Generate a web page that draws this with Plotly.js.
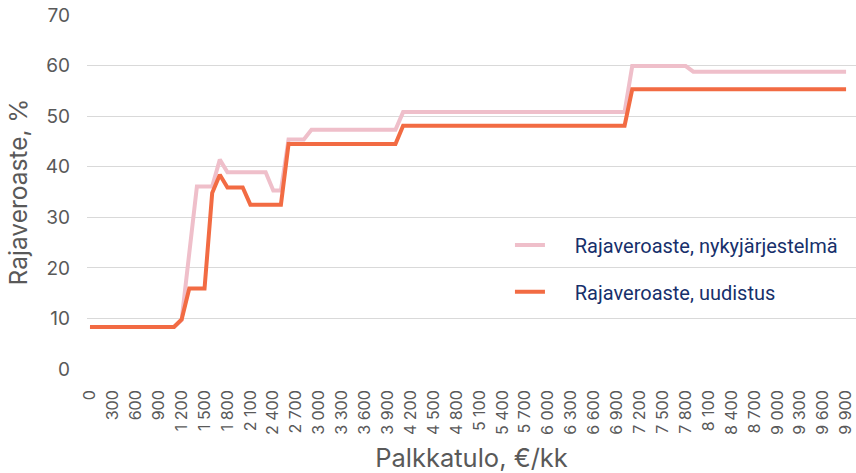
<!DOCTYPE html>
<html>
<head>
<meta charset="utf-8">
<script src="https://cdn.plot.ly/plotly-3.0.1.min.js"></script>
<style>html,body{margin:0;padding:0;background:#fff;}#chart{width:856px;height:473px;}</style>
</head>
<body>
<div id="chart"></div>
<script>
// Palkkatulo, €/kk
const income = [
  0,100,200,300,400,500,600,700,800,900,
  1000,1100,1200,1300,1400,1500,1600,1700,1800,1900,
  2000,2100,2200,2300,2400,2500,2600,2700,2800,2900,
  3000,3100,3200,3300,3400,3500,3600,3700,3800,3900,
  4000,4100,4200,4300,4400,4500,4600,4700,4800,4900,
  5000,5100,5200,5300,5400,5500,5600,5700,5800,5900,
  6000,6100,6200,6300,6400,6500,6600,6700,6800,6900,
  7000,7100,7200,7300,7400,7500,7600,7700,7800,7900,
  8000,8100,8200,8300,8400,8500,8600,8700,8800,8900,
  9000,9100,9200,9300,9400,9500,9600,9700,9800,9900
];
// Rajaveroaste, nykyjärjestelmä (%)
const current = [
  8.3,8.3,8.3,8.3,8.3,8.3,8.3,8.3,8.3,8.3,
  8.3,8.3,9.7,23.0,36.1,36.1,36.1,41.4,38.9,38.9,
  38.9,38.9,38.9,38.9,35.3,35.3,45.4,45.4,45.4,47.3,
  47.3,47.3,47.3,47.3,47.3,47.3,47.3,47.3,47.3,47.3,
  47.3,50.8,50.8,50.8,50.8,50.8,50.8,50.8,50.8,50.8,
  50.8,50.8,50.8,50.8,50.8,50.8,50.8,50.8,50.8,50.8,
  50.8,50.8,50.8,50.8,50.8,50.8,50.8,50.8,50.8,50.8,
  50.8,59.9,59.9,59.9,59.9,59.9,59.9,59.9,59.9,58.8,
  58.8,58.8,58.8,58.8,58.8,58.8,58.8,58.8,58.8,58.8,
  58.8,58.8,58.8,58.8,58.8,58.8,58.8,58.8,58.8,58.8
];
// Rajaveroaste, uudistus (%)
const reform = [
  8.3,8.3,8.3,8.3,8.3,8.3,8.3,8.3,8.3,8.3,
  8.3,8.3,9.8,15.9,15.9,15.9,34.8,38.4,35.9,35.9,
  35.9,32.5,32.5,32.5,32.5,32.5,44.5,44.5,44.5,44.5,
  44.5,44.5,44.5,44.5,44.5,44.5,44.5,44.5,44.5,44.5,
  44.5,48.1,48.1,48.1,48.1,48.1,48.1,48.1,48.1,48.1,
  48.1,48.1,48.1,48.1,48.1,48.1,48.1,48.1,48.1,48.1,
  48.1,48.1,48.1,48.1,48.1,48.1,48.1,48.1,48.1,48.1,
  48.1,55.3,55.3,55.3,55.3,55.3,55.3,55.3,55.3,55.3,
  55.3,55.3,55.3,55.3,55.3,55.3,55.3,55.3,55.3,55.3,
  55.3,55.3,55.3,55.3,55.3,55.3,55.3,55.3,55.3,55.3
];
const tickValues = [0,300,600,900,1200,1500,1800,2100,2400,2700,3000,3300,3600,3900,4200,4500,4800,5100,5400,5700,6000,6300,6600,6900,7200,7500,7800,8100,8400,8700,9000,9300,9600,9900];
const tickLabels = ["0","300","600","900","1 200","1 500","1 800","2 100","2 400","2 700","3 000","3 300","3 600","3 900","4 200","4 500","4 800","5 100","5 400","5 700","6 000","6 300","6 600","6 900","7 200","7 500","7 800","8 100","8 400","8 700","9 000","9 300","9 600","9 900"];
const names = ["Rajaveroaste, nykyjärjestelmä", "Rajaveroaste, uudistus"];

// legend text indent (visual gap between sample line and label)
const pad = '\u00a0\u00a0\u00a0\u00a0\u00a0';
const traces = [
  {x: income, y: current, name: pad + names[0], type: 'scatter', mode: 'lines',
   line: {color: '#efbfca', width: 4, shape: 'linear'}, legend: 'legend'},
  {x: income, y: reform, name: pad + names[1], type: 'scatter', mode: 'lines',
   line: {color: '#f26b43', width: 4, shape: 'linear'}, legend: 'legend2'}
];

const legendFont = {family: 'Roboto, sans-serif', size: 20, color: '#17306b'};
const layout = {
  width: 856, height: 473,
  margin: {l: 87, r: 0, t: 15, b: 104},
  paper_bgcolor: '#ffffff', plot_bgcolor: '#ffffff',
  font: {family: 'Inter, sans-serif', color: '#595959'},
  showlegend: true,
  xaxis: {
    type: 'linear', range: [-39, 10030],
    tickmode: 'array', tickvals: tickValues, ticktext: tickLabels,
    tickangle: -90, tickfont: {size: 16, color: '#595959'},
    ticklabeloverflow: 'allow',
    ticks: '', showgrid: false, zeroline: false, showline: false,
    ticklabelstandoff: 17,
    title: {text: 'Palkkatulo, €/kk', font: {size: 25.5, color: '#595959'}, standoff: 18}
  },
  yaxis: {
    range: [0, 70], dtick: 10, tick0: 0,
    tickfont: {size: 19, color: '#595959'},
    ticks: '', showgrid: true, gridcolor: '#d9d9d9', gridwidth: 1,
    zeroline: false, showline: false, ticklabelstandoff: 16,
    title: {text: 'Rajaveroaste, %', font: {size: 24.5, color: '#595959'}, standoff: 11}
  },
  legend: {x: 0.55, y: 0.350, xanchor: 'left', yanchor: 'middle',
    bgcolor: 'rgba(0,0,0,0)', borderwidth: 0, font: legendFont, itemwidth: 30},
  legend2: {x: 0.55, y: 0.218, xanchor: 'left', yanchor: 'middle',
    bgcolor: 'rgba(0,0,0,0)', borderwidth: 0, font: legendFont, itemwidth: 30}
};
Plotly.newPlot('chart', traces, layout, {displayModeBar: false, staticPlot: true});
</script>
</body>
</html>
